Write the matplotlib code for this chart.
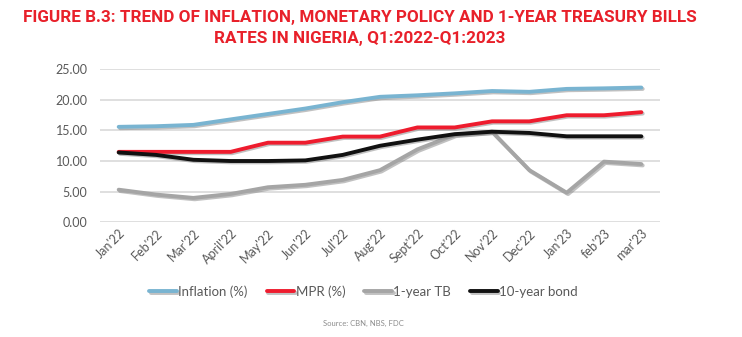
import matplotlib
matplotlib.use("Agg")
import matplotlib.pyplot as plt
import matplotlib.patheffects as pe
from matplotlib.ticker import FormatStrFormatter

months = ["Jan'22", "Feb'22", "Mar'22", "April'22", "May'22", "Jun'22", "Jul'22", "Aug'22",
          "Sept'22", "Oct'22", "Nov'22", "Dec'22", "Jan'23", "feb'23", "mar'23"]
inflation = [15.6, 15.7, 15.92, 16.82, 17.71, 18.6, 19.64, 20.52, 20.77, 21.09, 21.47, 21.34, 21.82, 21.91, 22.04]
mpr = [11.5, 11.5, 11.5, 11.5, 13.0, 13.0, 14.0, 14.0, 15.5, 15.5, 16.5, 16.5, 17.5, 17.5, 18.0]
tb1 = [5.3, 4.5, 3.95, 4.6, 5.7, 6.1, 6.9, 8.5, 11.9, 14.3, 14.8, 8.5, 4.8, 9.9, 9.5]
bond10 = [11.4, 11.0, 10.2, 10.0, 10.0, 10.1, 11.0, 12.5, 13.5, 14.4, 14.8, 14.6, 14.05, 14.05, 14.05]

series = [("Inflation (%)", inflation, "#79b4d1"),
          ("MPR (%)", mpr, "#ee1c2e"),
          ("1-year TB", tb1, "#a5a5a5"),
          ("10-year bond", bond10, "#111111")]

fig = plt.figure(figsize=(7.42, 3.37), dpi=100)
ax = fig.add_axes([0.1348, 0.3412, 0.7547, 0.4526])

x = list(range(len(months)))
shadow = [pe.SimpleLineShadow(offset=(1, -1), shadow_color="#777777", alpha=0.45), pe.Normal()]
for name, vals, col in series:
    ax.plot(x, vals, color=col, lw=2.8, label=name, solid_capstyle="round",
            solid_joinstyle="round", path_effects=shadow)

ax.set_xlim(-0.5, len(months) - 0.5)
ax.set_ylim(0, 25)
ax.set_yticks([0, 5, 10, 15, 20, 25])
ax.yaxis.set_major_formatter(FormatStrFormatter("%.2f"))
ax.grid(axis="y", color="#d9d9d9", lw=1.2)
ax.set_axisbelow(True)
for s in ax.spines.values():
    s.set_visible(False)
ax.tick_params(axis="both", length=0, colors="#595959", labelsize=9)
ax.tick_params(axis="y", pad=9)
ax.set_xticks(x)
ax.set_xticklabels(months, rotation=45, ha="right", rotation_mode="anchor", fontfamily="Lato")
for t in ax.get_yticklabels():
    t.set_fontfamily("Lato")

leg = fig.legend(loc="center", bbox_to_anchor=(0.49, 0.135), ncol=4, frameon=False,
                 handlelength=2.1, handletextpad=0.1, columnspacing=1.45,
                 prop={"family": "Lato", "size": 9.5})
for t in leg.get_texts():
    t.set_color("#595959")
for h in leg.get_lines():
    h.set_linewidth(2.8)

title_kw = dict(ha="center", va="center", color="#e8202a", fontweight="semibold",
                fontfamily=["Roboto", "DejaVu Sans"])
t1 = fig.text(0.485, 0.947, "FIGURE B.3: TREND OF INFLATION, MONETARY POLICY AND 1-YEAR TREASURY BILLS",
              fontsize=12, **title_kw)
t2 = fig.text(0.485, 0.887, "RATES IN NIGERIA, Q1:2022-Q1:2023", fontsize=12, **title_kw)
fig.canvas.draw()
w = t1.get_window_extent().width
fs = 12 * 673.0 / w
t1.set_fontsize(fs)
t2.set_fontsize(fs)

fig.text(0.49, 0.04, "Source: CBN, NBS, FDC", ha="center", va="center", color="#8c8c8c",
         fontsize=5.5, fontfamily="Lato")

fig.savefig("out.png", dpi=100)
